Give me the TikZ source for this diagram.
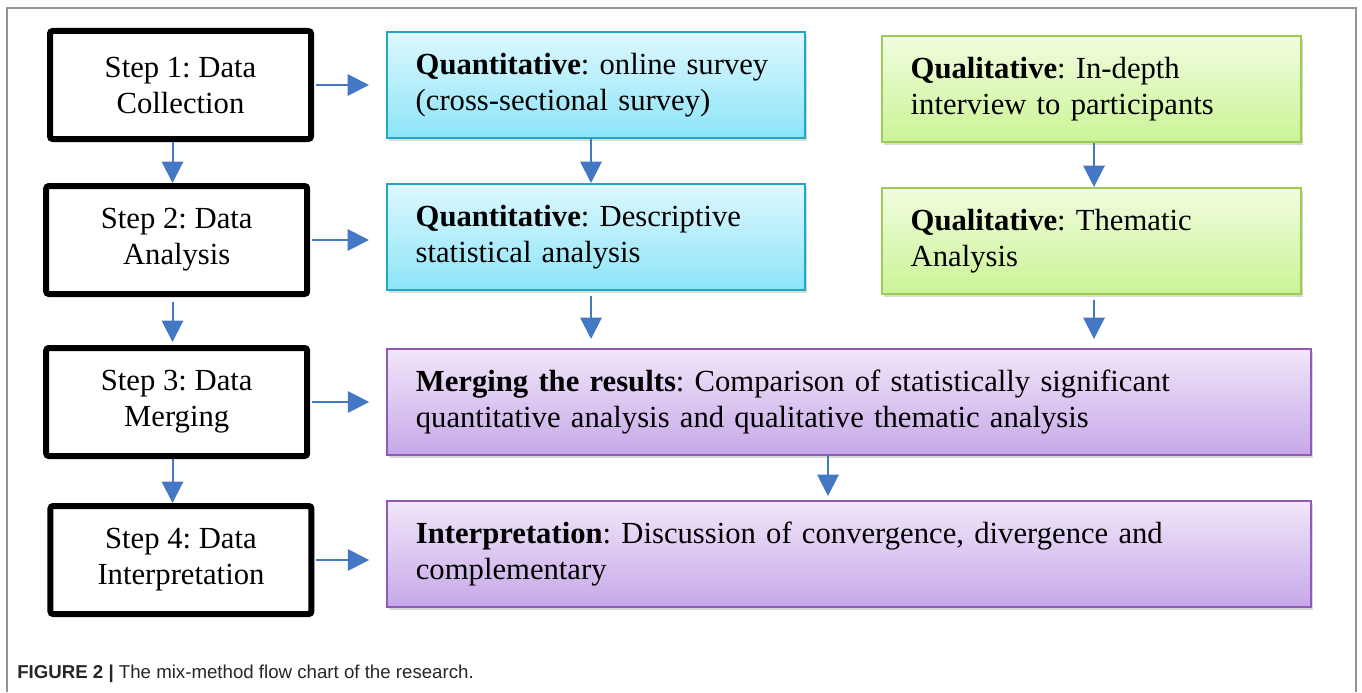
\documentclass[tikz,border=0pt]{standalone}
\usepackage{fontspec}
\setmainfont{Liberation Serif}
\setsansfont{Liberation Sans}
\usepackage{tikz}
\usetikzlibrary{positioning,arrows.meta,shadows}
\frenchspacing

\definecolor{arrowblue}{RGB}{68,119,196}
\definecolor{quanline}{RGB}{30,168,200}
\definecolor{quantop}{RGB}{222,248,254}
\definecolor{quanbot}{RGB}{140,228,248}
\definecolor{qualline}{RGB}{155,205,85}
\definecolor{qualtop}{RGB}{241,252,222}
\definecolor{qualbot}{RGB}{202,244,150}
\definecolor{mergeline}{RGB}{142,92,182}
\definecolor{mergetop}{RGB}{241,230,249}
\definecolor{mergebot}{RGB}{198,168,232}

\begin{document}
\begin{tikzpicture}[
  x=0.75pt,y=-0.75pt,
  node distance=33pt and 54pt,
  stepbox/.style={draw,line width=4.5pt,rounded corners=2pt,fill=white,minimum width=195.75pt,minimum height=81pt,font=\fontsize{23}{27}\selectfont,align=center},
  res/.style={draw,line width=1.5pt,minimum height=79.5pt,inner xsep=21.5pt,align=left,font=\fontsize{23}{27}\selectfont,drop shadow={shadow xshift=1.2pt,shadow yshift=-2.6pt,opacity=0.3}},
  quan/.style={res,draw=quanline,top color=quantop,bottom color=quanbot,text width=270.5pt},
  qual/.style={res,draw=qualline,top color=qualtop,bottom color=qualbot,text width=271.25pt},
  merge/.style={res,draw=mergeline,top color=mergetop,bottom color=mergebot,text width=650pt},
  arr/.style={-{Triangle[width=16pt,length=16pt]},line width=1.5pt,arrowblue},
  figframe/.style={draw=gray!85,line width=1.2pt}]
  \useasboundingbox (0,0) rectangle (1362,692);
  \draw[figframe] (7,692) |- (1356,8) -- (1356,692);
  % steps on the left
  \node (s1) [stepbox] at (180.5,85) {Step 1: Data\\Collection};
  \node (s2) [stepbox,below=30.75pt of s1,xshift=-2.85pt] {Step 2: Data\\Analysis};
  \node (s3) [stepbox,below=36pt of s2] {Step 3: Data\\Merging};
  \node (s4) [stepbox,below=33pt of s3,xshift=3.2pt] {Step 4: Data\\Interpretation};
  % quantitative and qualitative strands
  \node (q1) [quan,right=54pt of s1] {\textbf{Quantitative}: online survey\\(cross-sectional survey)};
  \node (q2) [quan,below=33pt of q1] {\textbf{Quantitative}: Descriptive\\statistical analysis};
  \node (g1) [qual,right=56.25pt of q1,yshift=-3pt] {\textbf{Qualitative}: In-depth\\interview to participants};
  \node (g2) [qual,below=33pt of g1] {\textbf{Qualitative}: Thematic\\Analysis};
  \node (m) [merge,right=57pt of s3] {\textbf{Merging the results}: Comparison of statistically significant\\quantitative analysis and qualitative thematic analysis};
  \node (i) [merge,below=33pt of m] {\textbf{Interpretation}: Discussion of convergence, divergence and\\complementary};
  \node (cap) [anchor=west,font=\sffamily\fontsize{14}{16}\selectfont,text=black!85,inner sep=0pt] at (17,674) {\textbf{FIGURE 2 |} The mix-method flow chart of the research.};
  \coordinate (cs) at (172.5,0);
  \coordinate (cq) at (591,0);
  \coordinate (cg) at (1094,0);
  \coordinate (cm) at (828,0);
  \draw[arr,shorten <=1.5pt,shorten >=12.75pt] (s1.east) -- (s1.east -| q1.west);
  \draw[arr,shorten <=1.5pt,shorten >=12.75pt] (s2.east) -- (s2.east -| q2.west);
  \draw[arr,shorten <=1.5pt,shorten >=12.75pt] (s3.east) -- (s3.east -| m.west);
  \draw[arr,shorten <=1.5pt,shorten >=12.75pt] (s4.east) -- (s4.east -| i.west);
  \draw[arr] (s1.south -| cs) -- (s2.north -| cs);
  \draw[arr,shorten <=3.75pt,shorten >=2.25pt] (s2.south -| cs) -- (s3.north -| cs);
  \draw[arr] (s3.south -| cs) -- (s4.north -| cs);
  \draw[arr] (q1.south -| cq) -- (q2.north -| cq);
  \draw[arr] (g1.south -| cg) -- (g2.north -| cg);
  \draw[arr,shorten <=3.75pt,shorten >=6.75pt] (q2.south -| cq) -- (m.north -| cq);
  \draw[arr,shorten <=3.75pt,shorten >=6.75pt] (g2.south -| cg) -- (m.north -| cg);
  \draw[arr,shorten >=3pt] (m.south -| cm) -- (i.north -| cm);
\end{tikzpicture}
\end{document}
